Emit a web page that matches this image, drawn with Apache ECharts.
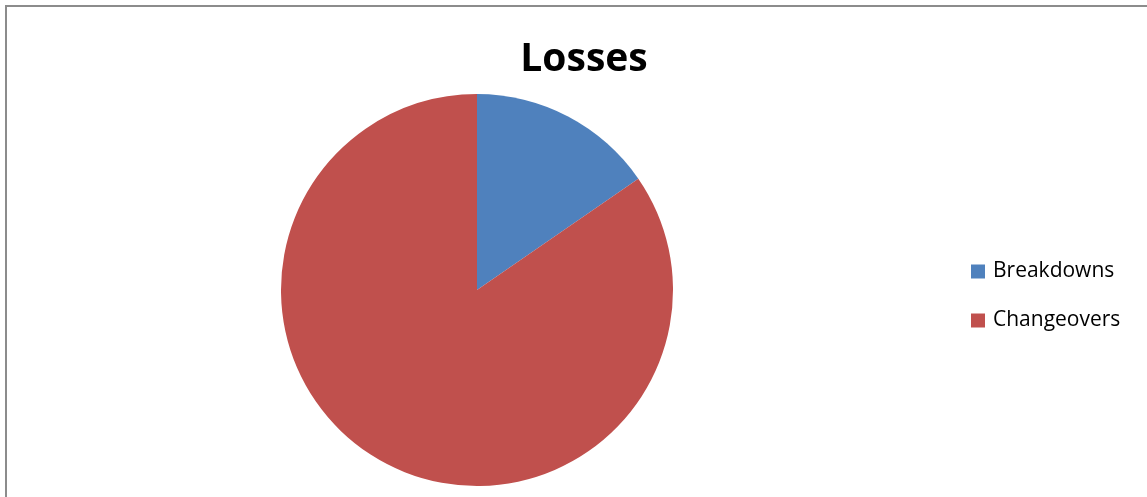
<!DOCTYPE html>
<html><head><meta charset="utf-8">
<script src="https://cdn.jsdelivr.net/npm/echarts@6/dist/echarts.min.js"></script>
<style>html,body{margin:0;padding:0;background:#fff}#c{width:1147px;height:497px}</style>
</head><body><div id="c"></div>
<script>
const categories = ["Breakdowns", "Changeovers"];
const values = [2, 11];
const colors = ["#4F81BD", "#C0504D"];
const chart = echarts.init(document.getElementById('c'));
chart.setOption({
  animation: false,
  backgroundColor: '#fff',
  graphic: [{type:'rect', shape:{x:6, y:6, width:1160, height:520}, style:{fill:'none', stroke:'#8c8c8c', lineWidth:2}}],
  title: {text: 'Losses', left: 579, top: 35, textAlign: 'center',
    textStyle: {fontFamily: 'Open Sans', fontWeight: 'bold', fontSize: 39, color: '#000'}},
  legend: {orient: 'vertical', left: 971, top: 261, padding: 0, itemWidth: 14, itemHeight: 14, itemGap: 28,
    icon: 'rect', data: categories,
    textStyle: {fontFamily: 'Open Sans', fontSize: 21, lineHeight: 21, color: '#000', padding: [0,0,0,3]}},
  series: [{type: 'pie', center: [477, 290], radius: 196, startAngle: 90, clockwise: true,
    label: {show: false}, labelLine: {show: false}, emphasis: {disabled: true},
    itemStyle: {borderWidth: 0},
    data: categories.map((n, i) => ({name: n, value: values[i], itemStyle: {color: colors[i]}}))}]
});
</script></body></html>
